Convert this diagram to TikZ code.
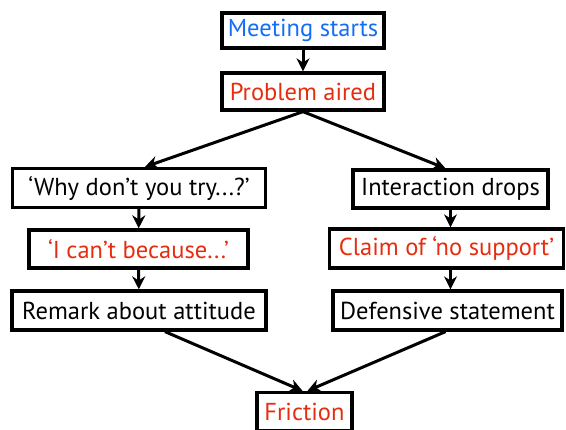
\documentclass[tikz,border=0pt]{standalone}
\usepackage{fontspec}
\setmainfont{PT Sans}
\usetikzlibrary{arrows.meta}
\definecolor{tblue}{RGB}{20,110,245}
\definecolor{tred}{RGB}{230,45,15}
\begin{document}
\begin{tikzpicture}[x=1pt,y=-1pt,
  box/.style={draw=black,line width=3.3pt,fill=white,inner sep=0pt,font=\fontsize{24.5}{28}\selectfont},
  arr/.style={line width=3pt,-{Stealth[length=13pt,width=13pt]}}]
\useasboundingbox (0,0) rectangle (566,430);
\node[box,text=tblue,minimum width=162pt,minimum height=35pt] (ms) at (303,30.5) {Meeting starts};
\node[box,text=tred,minimum width=162pt,minimum height=37pt] (pa) at (303,91.5) {Problem aired};
\node[box,minimum width=253pt,minimum height=39pt] (why) at (139,188) {‘Why don’t you try...?’};
\node[box,text=tred,minimum width=219pt,minimum height=38pt] (cant) at (138.5,249) {‘I can’t because...’};
\node[box,minimum width=254pt,minimum height=39pt] (rem) at (139,310.5) {Remark about attitude};
\node[box,minimum width=195pt,minimum height=38pt] (inter) at (450.5,189) {Interaction drops};
\node[box,text=tred,minimum width=234pt,minimum height=39pt] (claim) at (446.5,248.5) {Claim of ‘no support’};
\node[box,minimum width=229pt,minimum height=39pt] (def) at (447.5,310.5) {Defensive statement};
\node[box,text=tred,minimum width=95pt,minimum height=38pt] (fr) at (304.5,411.5) {Friction};
\draw[arr] (ms) -- (pa);
\draw[arr] (pa.south) -- ([xshift=6pt]why.north);
\draw[arr] (pa.south) -- ([xshift=-5pt]inter.north);
\draw[arr] (why) -- (cant);
\draw[arr] (cant) -- (rem);
\draw[arr] (inter) -- (inter|-claim.north);
\draw[arr] (claim.south-|inter) -- (def.north-|inter);
\draw[arr] ([xshift=26pt]rem.south) -- ([xshift=-2pt]fr.north);
\draw[arr] ([xshift=-2pt]def.south) -- ([xshift=3pt]fr.north);
\end{tikzpicture}
\end{document}
